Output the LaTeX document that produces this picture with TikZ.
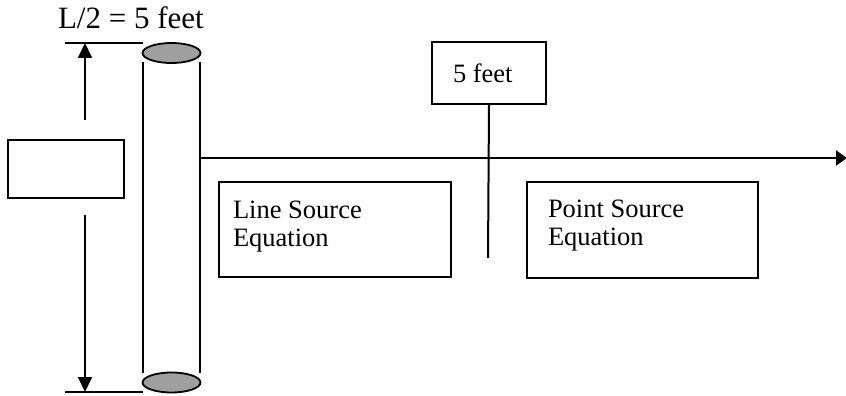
\documentclass[tikz,border=0pt]{standalone}
\usepackage{fontspec}
\setmainfont{Liberation Serif}
\usetikzlibrary{arrows.meta}
\begin{document}
\begin{tikzpicture}[x=1pt,y=-1pt,line width=2pt,
  frame/.style={draw,line width=2pt,inner sep=0pt,anchor=north west},
  boxtext/.style={font=\fontsize{26.5}{28}\selectfont,inner sep=0pt,anchor=base west,align=left},
  endcap/.style={draw,line width=1.8pt,fill=gray!75},
  dimarrow/.style={-{Triangle[width=14pt,length=15pt]}},
  axisarrow/.style={-{Triangle[width=15pt,length=11pt]}}]
\useasboundingbox (0,0) rectangle (846,396);

% dimension label
\node[font=\fontsize{31}{34}\selectfont,inner sep=0pt,anchor=base west] (halflen) at (57,29) {L/2 = 5 feet};

% empty box on the left
\node[frame,minimum width=116pt,minimum height=58pt] (leftbox) at (7,139) {};

% cylinder (line source)
\coordinate (cylTL) at (143,62);
\coordinate (cylBL) at (143,373);
\coordinate (cylTR) at (200,62);
\coordinate (cylBR) at (200,373);
\draw (cylTL) -- (cylBL);
\draw (cylTR) -- (cylBR);
\draw[endcap] (171.5,53) ellipse [x radius=29,y radius=10];
\draw[endcap] (171.5,382.5) ellipse [x radius=29,y radius=10];

% dimension lines and arrows
\coordinate (dimTopL) at (65,43);
\coordinate (dimTopR) at (143,43);
\coordinate (dimBotL) at (65,392);
\coordinate (dimBotR) at (143,392);
\draw (dimTopL) -- (dimTopR);
\draw (dimBotL) -- (dimBotR);
\coordinate (upStart) at (85,120);
\coordinate (upEnd) at (85,43);
\coordinate (downStart) at (85,215);
\coordinate (downEnd) at (85,392);
\draw[dimarrow] (upStart) -- (upEnd);
\draw[dimarrow] (downStart) -- (downEnd);

% distance axis
\coordinate (axisStart) at (200,158);
\coordinate (axisEnd) at (847,158);
\draw[axisarrow] (axisStart) -- (axisEnd);

% 5 feet marker
\node[frame,minimum width=114pt,minimum height=62pt] (fivebox) at (431,41) {};
\node[boxtext] (fivetext) at (452,82) {5 feet};
\coordinate (markEnd) at (488,258);
\draw (fivebox.south) -- (markEnd);

% equation regions (base anchor sits on the last line)
\node[frame,minimum width=232pt,minimum height=95pt] (linebox) at (218,181) {};
\node[boxtext] (linetext) at (232,246) {Line Source\\Equation};
\node[frame,minimum width=231pt,minimum height=96pt] (pointbox) at (526,181) {};
\node[boxtext] (pointtext) at (547,245) {Point Source\\Equation};
\end{tikzpicture}
\end{document}
